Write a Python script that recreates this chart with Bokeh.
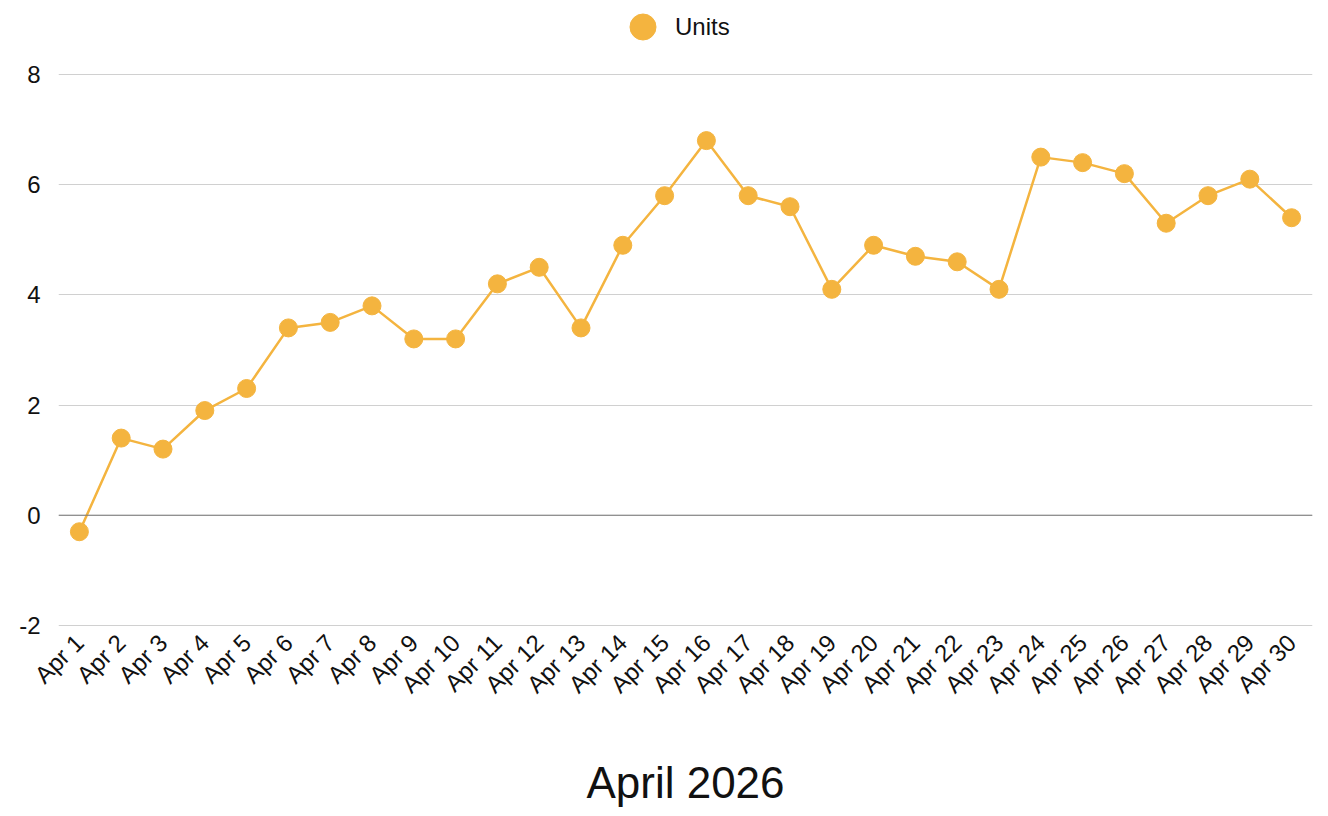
import math
from bokeh.plotting import figure
from bokeh.models import (ColumnDataSource, FactorRange, Range1d, Span, Legend, LegendItem,
                          PrintfTickFormatter)
from bokeh.embed import file_html
from bokeh.resources import INLINE

days = [f"Apr {i}" for i in range(1, 31)]
units = [-0.3, 1.4, 1.2, 1.9, 2.3, 3.4, 3.5, 3.8, 3.2, 3.2,
         4.2, 4.5, 3.4, 4.9, 5.8, 6.8, 5.8, 5.6, 4.1, 4.9,
         4.7, 4.6, 4.1, 6.5, 6.4, 6.2, 5.3, 5.8, 6.1, 5.4]
y_ticks = [-2, 0, 2, 4, 6, 8]

COLOR = "#F4B43F"
FONT = "Liberation Sans"

src = ColumnDataSource(dict(x=days, y=units))

# frame extends to the top of the page so the legend can sit above the 8 gridline
p = figure(width=1328, height=816, x_range=FactorRange(*days), y_range=Range1d(-2.02, 9.343),
           output_backend="svg", toolbar_location=None,
           min_border_left=58, min_border_right=16, min_border_top=0, min_border_bottom=190)
p.outline_line_color = None
p.background_fill_color = "white"
p.border_fill_color = "white"

line = p.line("x", "y", source=src, line_color=COLOR, line_width=2.5)
pts = p.scatter("x", "y", source=src, size=18, fill_color=COLOR, line_color=COLOR)

p.xgrid.grid_line_color = None
p.ygrid.grid_line_color = "#d0d0d0"
p.ygrid.grid_line_width = 1
p.yaxis.ticker = y_ticks
p.yaxis.formatter = PrintfTickFormatter(format="%d")

zero = Span(location=0, dimension="width", line_color="#777777", line_width=1)
p.add_layout(zero)

for ax in (p.xaxis[0], p.yaxis[0]):
    ax.axis_line_color = None
    ax.major_tick_line_color = None
    ax.minor_tick_line_color = None
    ax.major_label_text_font = FONT
    ax.major_label_text_color = "#111111"

p.yaxis.major_label_text_font_size = "24px"
p.yaxis.major_label_standoff = 12
p.xaxis.major_label_text_font_size = "24px"
p.xaxis.major_label_orientation = math.pi / 4
p.xaxis.major_label_standoff = 6
p.xaxis.axis_label = "April 2026"
p.xaxis.axis_label_text_font = FONT
p.xaxis.axis_label_text_font_size = "44px"
p.xaxis.axis_label_text_font_style = "normal"
p.xaxis.axis_label_text_color = "#111111"
p.xaxis.axis_label_standoff = 47

legend = Legend(items=[LegendItem(label="Units", renderers=[pts])],
                orientation="horizontal", location=(552, 567),
                label_text_font=FONT, label_text_font_size="24px",
                label_text_color="#111111", border_line_color=None,
                background_fill_alpha=0, glyph_width=65, glyph_height=65,
                label_standoff=-10, margin=0, padding=0)
p.add_layout(legend)

open("out.html", "w").write(file_html(p, INLINE))
